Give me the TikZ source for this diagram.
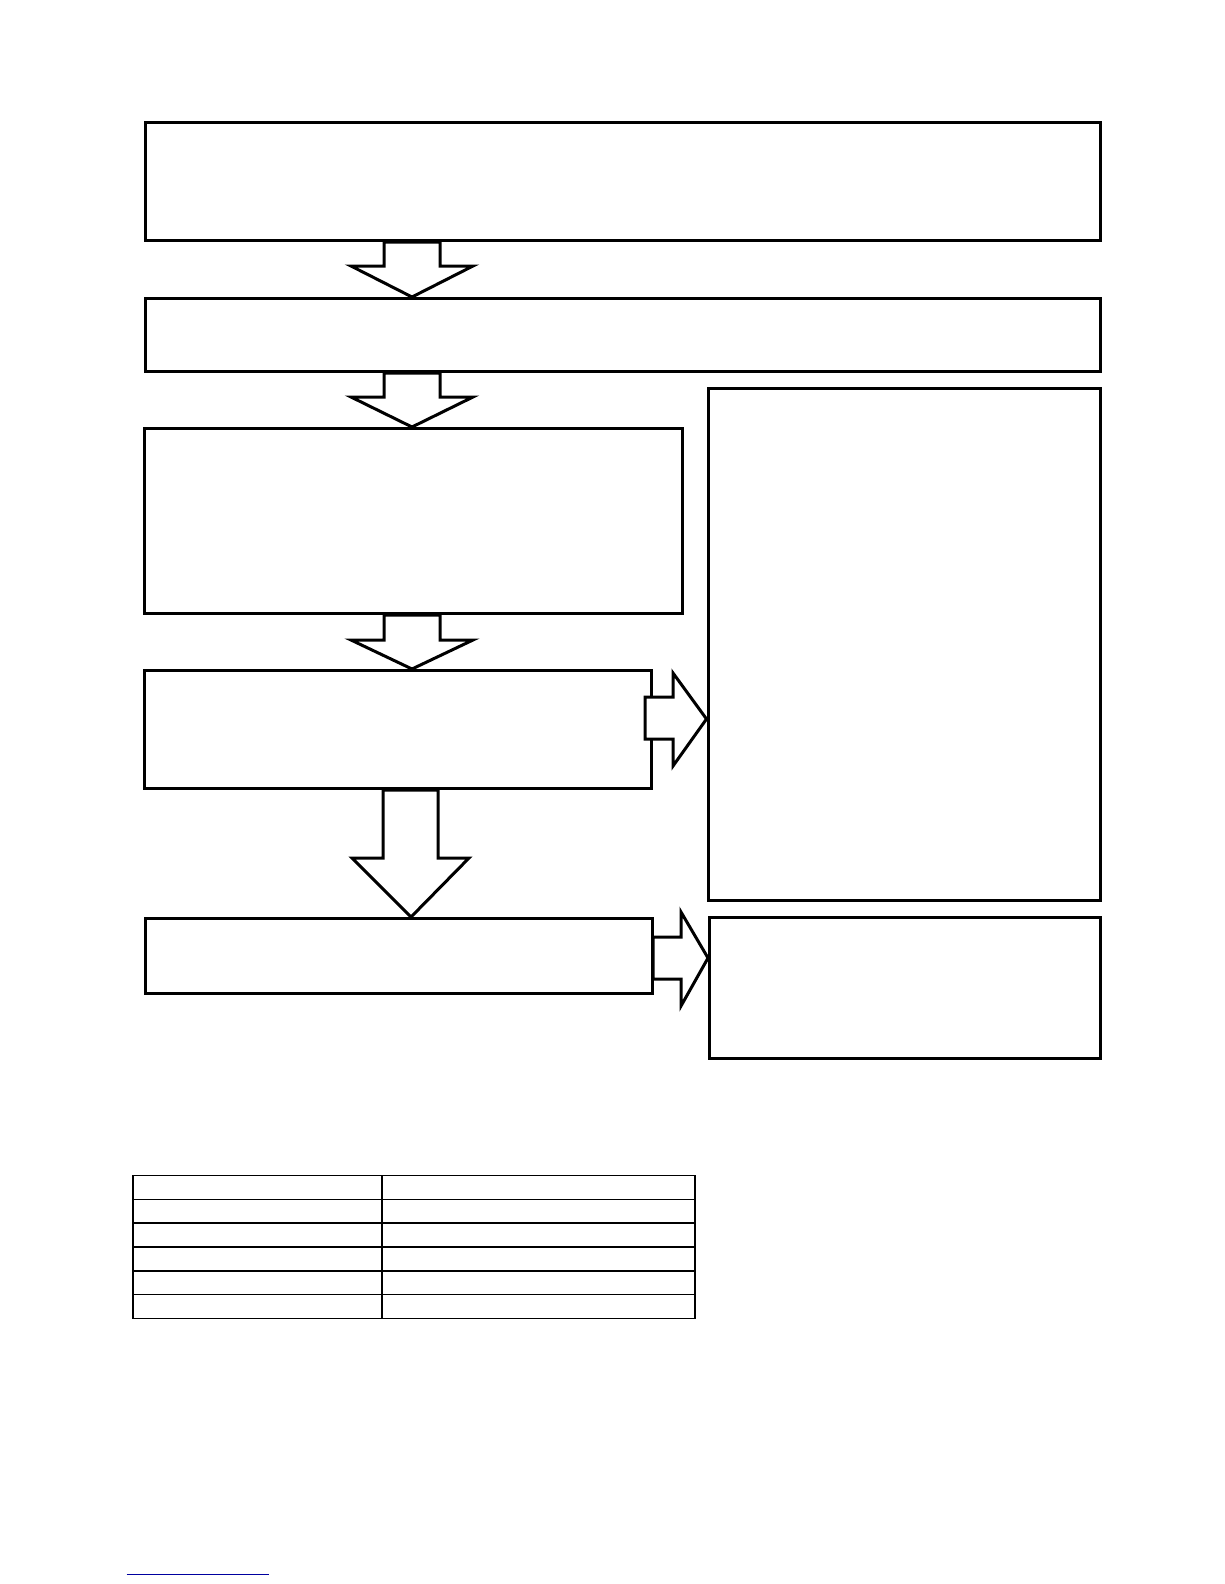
\documentclass[tikz,border=0pt]{standalone}
\definecolor{linkblue}{RGB}{0,0,160}
\tikzset{
  box/.style={draw=black, line width=3pt, fill=white, anchor=north west, inner sep=0pt},
  blk/.style={draw=black, line width=3pt, fill=white, line join=miter},
  tbl/.style={draw=black, line width=1.6pt}
}
\begin{document}
\begin{tikzpicture}[x=1pt,y=-1pt]
\useasboundingbox (0,0) rectangle (1224,1584);
% boxes (x, y of top-left; width; height)
\node[box, minimum width=955pt, minimum height=118pt] (b1) at (144,121) {};
\node[box, minimum width=955pt, minimum height=73pt]  (b2) at (144,297) {};
\node[box, minimum width=538pt, minimum height=185pt] (b3) at (142.5,427) {};
\node[box, minimum width=507.5pt, minimum height=118pt] (b4) at (142.5,669) {};
\node[box, minimum width=506.5pt, minimum height=75pt] (b5) at (144,917) {};
\node[box, minimum width=392.5pt, minimum height=512pt] (r1) at (706.5,387) {};
\node[box, minimum width=391pt, minimum height=141pt] (r2) at (708,916) {};
% down block arrows
\draw[blk] (384,0 |- b1.south) -- (384,266) -- (351,266) -- (412,0 |- b2.north) -- (473,266) -- (440,266) -- (440,0 |- b1.south) -- cycle;
\draw[blk] (384,0 |- b2.south) -- (384,397) -- (351,397) -- (412,0 |- b3.north) -- (473,397) -- (440,397) -- (440,0 |- b2.south) -- cycle;
\draw[blk] (384,0 |- b3.south) -- (384,640) -- (351,640) -- (412,0 |- b4.north) -- (473,640) -- (440,640) -- (440,0 |- b3.south) -- cycle;
\draw[blk] (383,0 |- b4.south) -- (383,858) -- (352,858) -- (411,0 |- b5.north) -- (469,858) -- (438,858) -- (438,0 |- b4.south) -- cycle;
% right block arrows
\draw[blk] (645,697) -- (673,697) -- (673,673) -- (r1.west |- 0,719) -- (673,766) -- (673,739) -- (645,739) -- cycle;
\draw[blk] (653,937) -- (681,937) -- (681,912) -- (r2.west |- 0,958) -- (681,1006) -- (681,979) -- (653,979) -- cycle;
% table
\draw[tbl] (133,1175.5) rectangle (695,1318.5);
\foreach \yy in {1199.3,1223.2,1247,1270.8,1294.6}
  \draw[tbl] (133,\yy) -- (695,\yy);
\draw[tbl] (382,1175.5) -- (382,1318.5);
% blue underline
\draw[linkblue, line width=1.6pt] (126.5,1574.5) -- (269,1574.5);
\end{tikzpicture}
\end{document}
